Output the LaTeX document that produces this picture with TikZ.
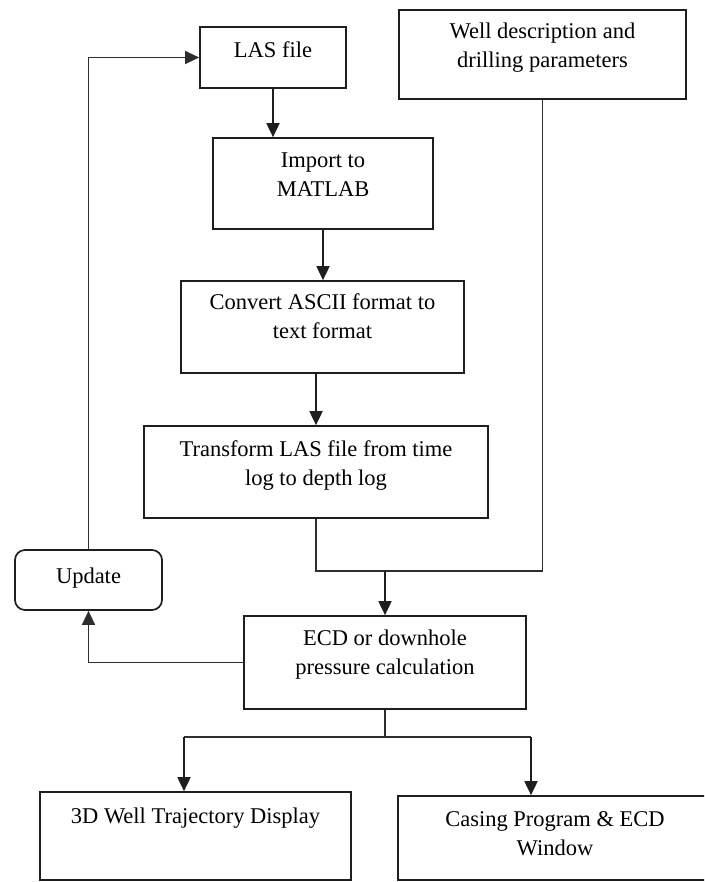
\documentclass[tikz,border=0pt]{standalone}
\usepackage{fontspec}
\setmainfont{Liberation Serif}
\usetikzlibrary{arrows.meta}
\definecolor{ink}{HTML}{1E1E1E}
\definecolor{wire}{HTML}{2E2E2E}

\tikzset{
  box/.style={draw=ink, line width=1.7pt, inner sep=0pt, align=center,
    font=\fontsize{22.5}{29}\selectfont, text height=26pt, text depth=0pt},
  txtup/.style={text height=0pt, text depth=#1},
  txtdown/.style={text height=#1, text depth=0pt},
  tip/.style={-{Triangle[length=14pt,width=13pt]}},
  flow/.style={draw=ink, line width=1.8pt, tip},
  wire/.style={draw=wire, line width=1.3pt}
}

\begin{document}
\begin{tikzpicture}[x=1pt, y=-1pt]
  \useasboundingbox (0,0) rectangle (704,882);
  \fill[white] (0,0) rectangle (704,882);
  \clip (0,0) rectangle (704,882);

  \node[box, txtdown=1pt, minimum width=146pt, minimum height=61pt] (las) at (273,57.5) {LAS file};
  \node[box, txtdown=27pt, minimum width=287pt, minimum height=89pt] (well) at (542.5,54.5) {Well description and\\drilling parameters};
  \node[box, txtdown=27pt, minimum width=220pt, minimum height=91pt] (import) at (323,183.5) {Import to\\MATLAB};
  \node[box, txtdown=22pt, minimum width=283pt, minimum height=92pt] (convert) at (322.5,327) {Convert ASCII format to\\text format};
  \node[box, minimum width=344pt, minimum height=92pt] (transform) at (316,472) {Transform LAS file from time\\log to depth log};
  \node[box, txtdown=6pt, rounded corners=10pt, minimum width=147pt, minimum height=60pt] (update) at (88.5,580) {Update};
  \node[box, txtdown=23pt, minimum width=282pt, minimum height=93pt] (ecd) at (385,662.5) {ECD or downhole\\pressure calculation};
  \node[box, txtup=26pt, minimum width=311pt, minimum height=88pt] (traj) at (195.5,836) {3D Well Trajectory Display};
  \node[box, txtdown=34pt, minimum width=314pt, minimum height=84pt] (casing) at (555,838) {Casing Program \& ECD\\Window};

  \coordinate (join) at (well.south |- 0,571);
  \coordinate (split) at (ecd.south |- 0,737);
  \coordinate (lft) at (184,737);
  \coordinate (rgt) at (531,737);

  \draw[flow] (las.south) -- (las.south |- import.north);
  \draw[flow] (import.south) -- (import.south |- convert.north);
  \draw[flow] (transform.north |- convert.south) -- (transform.north);
  \draw[wire] (transform.south) |- (join) -- (well.south);
  \draw[flow] (join -| ecd.north) -- (ecd.north);
  \draw[wire, tip] (update.north) |- (las.west);
  \draw[wire, tip] (ecd.west) -| (update.south);
  \draw[wire] (ecd.south) -- (split);
  \draw[wire] (lft) -- (rgt);
  \draw[flow] (lft) -- (lft |- traj.north);
  \draw[flow] (rgt) -- (rgt |- casing.north);
\end{tikzpicture}
\end{document}
